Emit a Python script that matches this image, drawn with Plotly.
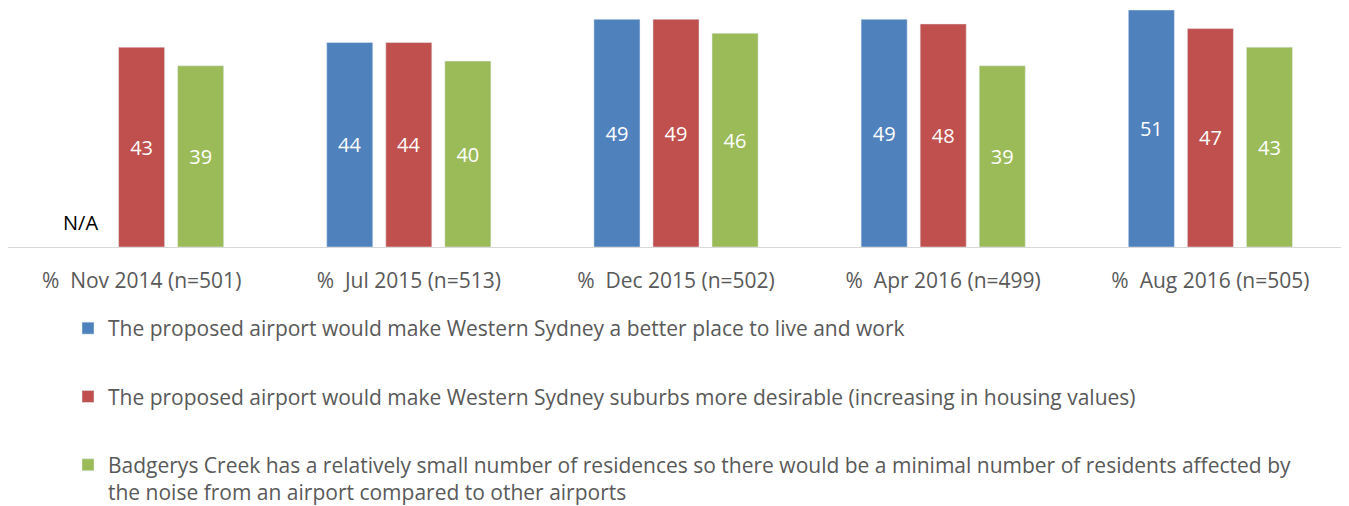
import plotly.graph_objects as go

categories = ["%  Nov 2014 (n=501)", "%  Jul 2015 (n=513)", "%  Dec 2015 (n=502)",
              "%  Apr 2016 (n=499)", "%  Aug 2016 (n=505)"]
series_names = [
    "The proposed airport would make Western Sydney a better place to live and work",
    "The proposed airport would make Western Sydney suburbs more desirable (increasing in housing values)",
    "Badgerys Creek has a relatively small number of residences so there would be a minimal number of residents affected by<br>the noise from an airport compared to other airports",
]
better_place = [None, 44, 49, 49, 51]
more_desirable = [43, 44, 49, 48, 47]
fewer_residents = [39, 40, 46, 39, 43]
colors = ["#4f81bd", "#c0504d", "#9bbb59"]

FONT = "Open Sans"
W, H = 1341, 498
fig = go.Figure()
for i, (name, vals) in enumerate(zip(series_names, [better_place, more_desirable, fewer_residents])):
    fig.add_trace(go.Bar(
        x=categories, y=vals, name=name, marker_color=colors[i],
        text=[("" if v is None else str(v)) for v in vals],
        textposition="inside", insidetextanchor="middle",
        textfont=dict(color="white", size=20, family=FONT),
        legendgroup=str(i),
    ))

fig.add_annotation(x=categories[0], y=2, xref="x", yref="y", text="N/A",
                   showarrow=False, xshift=-61, yanchor="bottom",
                   font=dict(color="black", size=20, family=FONT))

fig.update_layout(
    width=W, height=H,
    margin=dict(l=0, r=5, t=0, b=259, autoexpand=False),
    paper_bgcolor="white", plot_bgcolor="white",
    barmode="group", bargap=0.337, bargroupgap=0.22,
    font=dict(family=FONT, color="#595959"),
    xaxis=dict(showline=True, linecolor="#d9d9d9", linewidth=1, ticks="",
               tickfont=dict(size=21, color="#595959", family=FONT),
               ticklabelstandoff=15, automargin=False),
    yaxis=dict(range=[0, 51.43], visible=False),
    legend=dict(orientation="v", xref="container", yref="container",
                x=60/W, xanchor="left", y=1 - 300/H, yanchor="top",
                font=dict(size=21, color="#595959", family=FONT),
                tracegroupgap=38, valign="top", traceorder="grouped"),
)
fig.write_html("out.html")
